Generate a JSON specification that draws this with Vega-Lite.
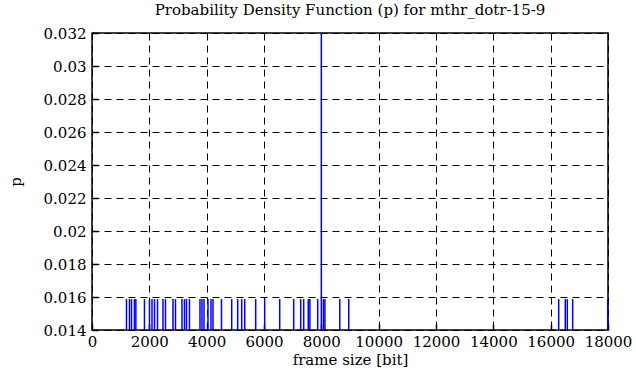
{
  "$schema": "https://vega.github.io/schema/vega-lite/v6.json",
  "width": 516,
  "height": 297,
  "autosize": {"type": "none"},
  "padding": {"left": 92, "top": 33, "right": 28, "bottom": 57},
  "background": "white",
  "title": {
    "text": "Probability Density Function (p) for mthr_dotr-15-9",
    "font": "DejaVu Serif",
    "fontSize": 15,
    "fontWeight": "normal",
    "color": "black",
    "offset": 8
  },
  "config": {
    "view": {"stroke": "black", "strokeWidth": 1.5},
    "axis": {
      "labelFont": "DejaVu Serif",
      "labelFontSize": 15,
      "labelColor": "black",
      "labelOverlap": false,
      "labelFlush": false,
      "titleFont": "DejaVu Serif",
      "titleFontSize": 15,
      "titleFontWeight": "normal",
      "titleColor": "black",
      "domain": false,
      "grid": true,
      "gridColor": "black",
      "gridDash": [7, 5],
      "gridWidth": 1,
      "gridOpacity": 1,
      "tickColor": "black",
      "tickWidth": 1.5
    }
  },
  "data": {
    "values": [
      {"size": 1203, "p": 0.015873},
      {"size": 1308, "p": 0.015873},
      {"size": 1378, "p": 0.015873},
      {"size": 1480, "p": 0.015873},
      {"size": 1530, "p": 0.015873},
      {"size": 1830, "p": 0.015873},
      {"size": 2005, "p": 0.015873},
      {"size": 2093, "p": 0.015873},
      {"size": 2180, "p": 0.015873},
      {"size": 2285, "p": 0.015873},
      {"size": 2476, "p": 0.015873},
      {"size": 2563, "p": 0.015873},
      {"size": 2825, "p": 0.015873},
      {"size": 2912, "p": 0.015873},
      {"size": 3139, "p": 0.015873},
      {"size": 3226, "p": 0.015873},
      {"size": 3296, "p": 0.015873},
      {"size": 3400, "p": 0.015873},
      {"size": 3767, "p": 0.015873},
      {"size": 3837, "p": 0.015873},
      {"size": 3907, "p": 0.015873},
      {"size": 4046, "p": 0.015873},
      {"size": 4151, "p": 0.015873},
      {"size": 4221, "p": 0.015873},
      {"size": 4517, "p": 0.015873},
      {"size": 4873, "p": 0.015873},
      {"size": 5082, "p": 0.015873},
      {"size": 5222, "p": 0.015873},
      {"size": 5327, "p": 0.015873},
      {"size": 5710, "p": 0.015873},
      {"size": 6024, "p": 0.015873},
      {"size": 6548, "p": 0.015873},
      {"size": 7036, "p": 0.015873},
      {"size": 7280, "p": 0.015873},
      {"size": 7385, "p": 0.015873},
      {"size": 7544, "p": 0.015873},
      {"size": 7600, "p": 0.015873},
      {"size": 7873, "p": 0.015873},
      {"size": 8000, "p": 0.047619},
      {"size": 8073, "p": 0.015873},
      {"size": 8125, "p": 0.015873},
      {"size": 8643, "p": 0.015873},
      {"size": 8957, "p": 0.015873},
      {"size": 16280, "p": 0.015873},
      {"size": 16510, "p": 0.015873},
      {"size": 16580, "p": 0.015873},
      {"size": 16768, "p": 0.015873},
      {"size": 17990, "p": 0.015873}
    ]
  },
  "mark": {"type": "rule", "color": "#0000ff", "strokeWidth": 1.5},
  "encoding": {
    "x": {
      "field": "size",
      "type": "quantitative",
      "scale": {"domain": [0, 18000], "nice": false, "zero": false},
      "axis": {"title": "frame size [bit]", "values": [0,2000,4000,6000,8000,10000,12000,14000,16000,18000], "format": "d", "tickSize": -6, "labelPadding": 10, "titlePadding": 3}
    },
    "y": {
      "field": "p",
      "type": "quantitative",
      "scale": {"domain": [0.014, 0.032], "nice": false, "zero": false, "clamp": true},
      "axis": {"title": "p", "values": [0.014,0.016,0.018,0.02,0.022,0.024,0.026,0.028,0.03,0.032], "format": "~g", "tickSize": -6, "labelPadding": 12, "titlePadding": 20}
    },
    "y2": {"datum": 0}
  }
}
